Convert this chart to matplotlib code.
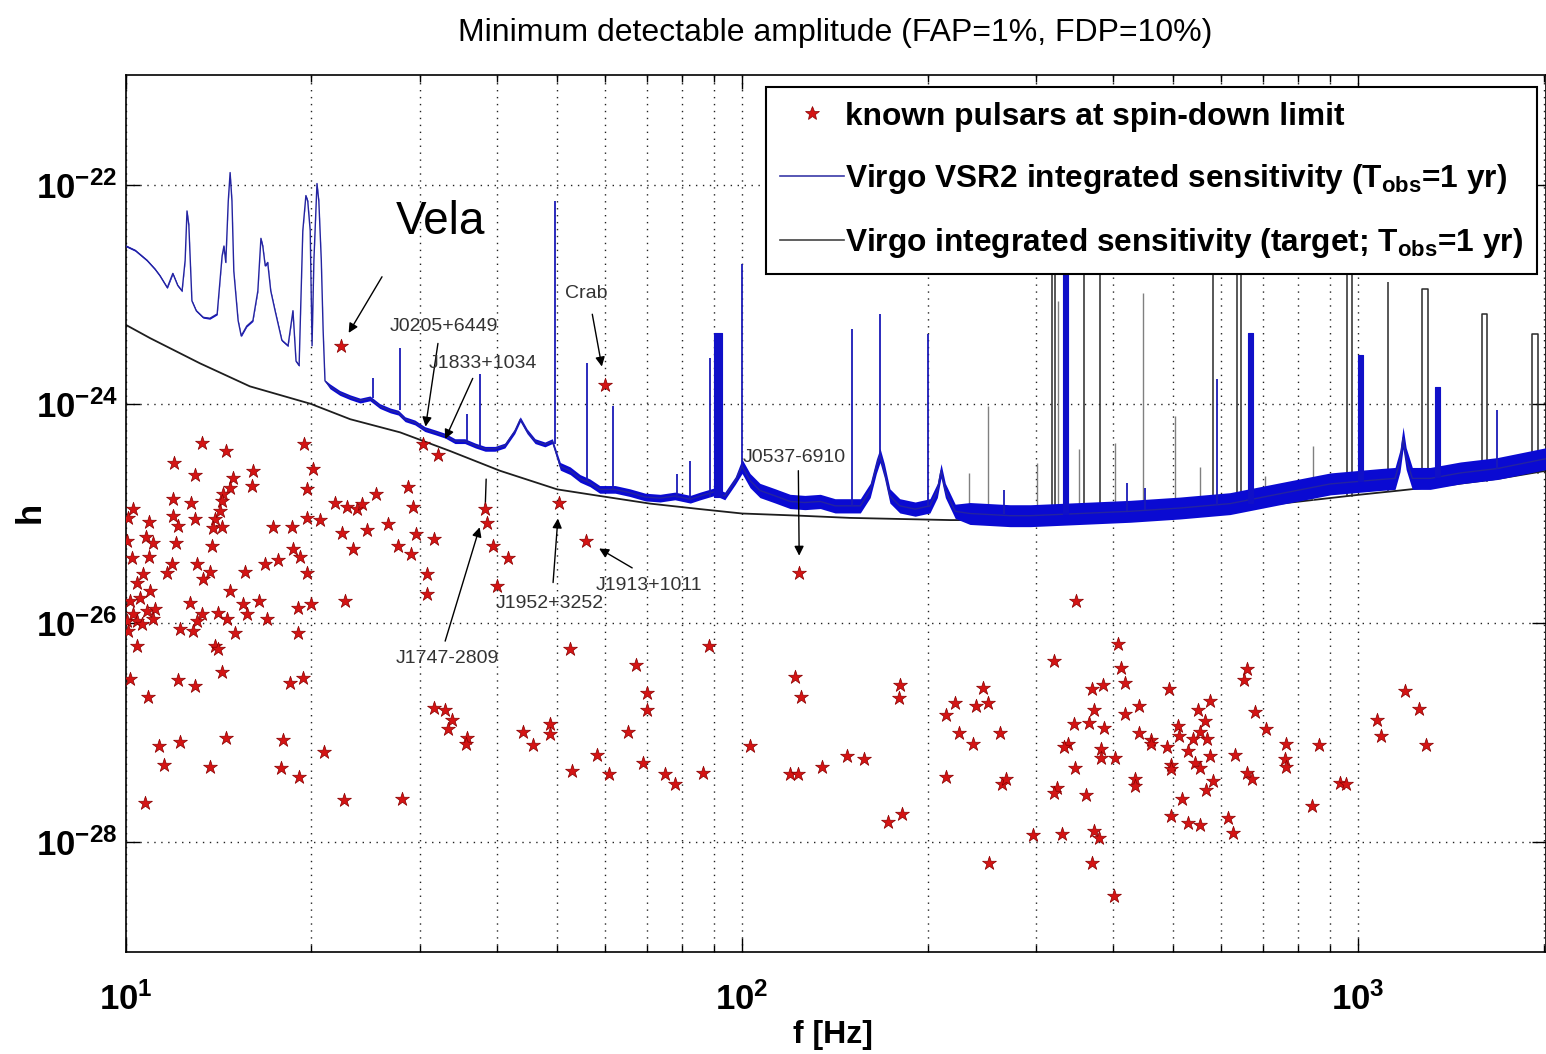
import matplotlib
matplotlib.use('Agg')
import matplotlib.pyplot as plt
import numpy as np
from matplotlib import font_manager
from matplotlib.lines import Line2D
from matplotlib.ticker import LogLocator, NullLocator, NullFormatter

names = {f.name for f in font_manager.fontManager.ttflist}
NARROW = 'Liberation Sans Narrow' if 'Liberation Sans Narrow' in names else 'Liberation Sans'

plt.rcParams['font.family'] = [NARROW, 'DejaVu Sans']
plt.rcParams['mathtext.fontset'] = 'custom'
plt.rcParams['mathtext.rm'] = NARROW
plt.rcParams['mathtext.bf'] = NARROW + ':bold'
plt.rcParams['mathtext.it'] = NARROW + ':italic'

# ---- data (log10 f [Hz], log10 h) ----
# Virgo VSR2 integrated sensitivity, smooth part
vsr2_logf = [1.000, 1.015, 1.034, 1.047, 1.055, 1.067, 1.076, 1.084, 1.091, 1.096,
             1.099, 1.102, 1.107, 1.114, 1.125, 1.136, 1.148, 1.156, 1.159, 1.162,
             1.166, 1.169, 1.172, 1.175, 1.182, 1.187, 1.196, 1.206, 1.214, 1.219,
             1.222, 1.226, 1.230, 1.235, 1.242, 1.253, 1.263, 1.271, 1.276, 1.281,
             1.287, 1.292, 1.295, 1.299, 1.302, 1.305, 1.310, 1.313, 1.317, 1.320,
             1.323, 1.331, 1.347, 1.364, 1.380, 1.396, 1.412, 1.429, 1.442, 1.453,
             1.469, 1.485, 1.502, 1.518, 1.534, 1.550, 1.567, 1.583, 1.599, 1.615,
             1.631, 1.640, 1.651, 1.664, 1.680, 1.692, 1.705, 1.721, 1.737, 1.753,
             1.769, 1.794, 1.818, 1.843, 1.867, 1.891, 1.916, 1.932, 1.956, 1.972,
             1.989, 2.000, 2.013, 2.029, 2.054, 2.078, 2.102, 2.127, 2.151, 2.175,
             2.192, 2.208, 2.218, 2.224, 2.231, 2.240, 2.256, 2.281, 2.305, 2.317,
             2.323, 2.330, 2.346, 2.370, 2.403, 2.435, 2.468, 2.549, 2.630, 2.711,
             2.792, 2.873, 2.955, 3.036, 3.060, 3.068, 3.073, 3.078, 3.088, 3.117,
             3.166, 3.226, 3.305]
vsr2_logh = [-22.56, -22.60, -22.69, -22.77, -22.83, -22.94, -22.81, -22.92, -22.97, -22.69,
             -22.24, -22.37, -23.06, -23.15, -23.21, -23.22, -23.18, -22.65, -22.56, -22.71,
             -22.15, -21.89, -22.15, -22.79, -23.24, -23.38, -23.29, -23.24, -22.97, -22.49,
             -22.56, -22.74, -22.71, -22.97, -23.15, -23.42, -23.47, -23.15, -23.61, -23.65,
             -22.42, -22.10, -22.15, -22.42, -23.47, -22.69, -21.99, -22.15, -22.69, -23.33,
             -23.79, -23.84, -23.90, -23.94, -23.97, -23.95, -24.02, -24.06, -24.08, -24.14,
             -24.17, -24.23, -24.26, -24.29, -24.34, -24.34, -24.38, -24.41, -24.41, -24.38,
             -24.25, -24.14, -24.25, -24.34, -24.37, -24.34, -24.57, -24.61, -24.68, -24.72,
             -24.78, -24.78, -24.81, -24.85, -24.86, -24.84, -24.87, -24.84, -24.80, -24.84,
             -24.70, -24.57, -24.70, -24.79, -24.84, -24.89, -24.90, -24.89, -24.93, -24.93,
             -24.93, -24.79, -24.57, -24.47, -24.61, -24.84, -24.93, -24.96, -24.93, -24.79,
             -24.61, -24.79, -24.98, -25.00, -25.01, -25.02, -25.02, -25.00, -24.98, -24.95,
             -24.91, -24.82, -24.73, -24.69, -24.68, -24.52, -24.31, -24.50, -24.68, -24.68,
             -24.63, -24.59, -24.50]
# half-width of the noise band (dex) per frequency range
noise_edges_logf = [1.0, 1.33, 1.70, 2.0, 2.35, 3.31]
noise_dex = [0.008, 0.022, 0.035, 0.065, 0.10]

# narrow VSR2 lines: log f, base, peak
line_logf = [1.401, 1.445, 1.554, 1.575, 1.696, 1.748, 1.791, 1.894, 1.916, 1.948,
             2.000, 2.179, 2.224, 2.302, 2.425, 2.625, 2.654, 2.771, 3.226]
line_base = [-23.95, -24.06, -24.34, -24.38, -24.37, -24.70, -24.78, -24.86, -24.87, -24.85,
             -24.57, -24.93, -24.47, -24.93, -25.00, -24.98, -24.97, -24.92, -24.59]
line_peak = [-23.76, -23.49, -24.09, -23.73, -22.15, -23.63, -24.02, -24.64, -24.52, -23.58,
             -22.72, -23.32, -23.18, -23.36, -24.79, -24.72, -24.77, -23.77, -24.06]
# wide VSR2 line clusters: log f from, log f to, base, peak
cluster_lo = [1.955, 2.521, 2.821, 3.000, 3.125]
cluster_hi = [1.968, 2.529, 2.829, 3.008, 3.133]
cluster_base = [-24.85, -25.00, -24.90, -24.70, -24.67]
cluster_peak = [-23.35, -22.60, -23.35, -23.55, -23.85]

# Virgo target sensitivity
target_logf = [1.000, 1.039, 1.120, 1.201, 1.300, 1.364, 1.445, 1.526, 1.607, 1.700,
               1.769, 1.851, 1.932, 2.000, 2.094, 2.175, 2.256, 2.338, 2.419, 2.500,
               2.581, 2.662, 2.744, 2.825, 2.906, 3.000, 3.068, 3.149, 3.231, 3.305]
target_logh = [-23.28, -23.40, -23.63, -23.84, -24.00, -24.14, -24.26, -24.43, -24.61, -24.78,
               -24.84, -24.91, -24.96, -25.00, -25.02, -25.04, -25.05, -25.06, -25.06, -25.05,
               -25.05, -25.02, -24.99, -24.94, -24.89, -24.83, -24.79, -24.74, -24.68, -24.61]
# target violin-mode pulses: log f from, log f to, base, top
pulse_lo = [2.503, 2.804, 2.982, 3.104, 3.201, 3.282]
pulse_hi = [2.508, 2.810, 2.990, 3.114, 3.209, 3.292]
pulse_base = [-25.05, -24.94, -24.84, -24.76, -24.70, -24.63]
pulse_top = [-22.60, -22.60, -22.60, -22.95, -23.18, -23.36]
# thin target lines: log f, top
tline_logf = [2.555, 2.581, 2.765, 3.049]
tline_top = [-22.60, -22.60, -22.60, -22.89]
tline_base = [-25.03, -25.03, -24.97, -24.80]
gline_logf = [2.368, 2.399, 2.479, 2.513, 2.547, 2.606, 2.651, 2.703, 2.744, 2.849, 2.927]
gline_top = [-24.63, -24.02, -24.54, -23.06, -24.41, -24.36, -22.99, -24.11, -24.58, -24.66, -24.38]
gline_base = [-25.06, -25.06, -25.05, -25.05, -25.04, -25.03, -25.02, -25.00, -24.99, -24.93, -24.88]

# known pulsars at spin-down limit
star_logf = [1.123, 1.162, 1.078, 1.112, 1.174, 1.206, 1.205, 1.169, 1.157, 1.289,
             1.304, 1.294, 1.076, 1.106, 1.156, 1.011, 1.003, 1.037, 1.076, 1.112,
             1.144, 1.153, 1.084, 1.141, 1.156, 1.239, 1.269, 1.294, 1.315, 1.339,
             1.359, 1.375, 1.383, 1.406, 1.458, 1.466, 1.351, 1.391, 1.425, 1.471,
             1.500, 1.442, 1.463, 1.369, 1.002, 1.032, 1.044, 1.081, 1.140, 1.010,
             1.037, 1.271, 1.282, 1.247, 1.226, 1.115, 1.075, 1.067, 1.136, 1.125,
             1.193, 1.294, 1.028, 1.018, 1.169, 1.104, 1.216, 1.190, 1.279, 1.300,
             1.356, 1.006, 1.023, 1.039, 1.011, 1.034, 1.047, 1.002, 1.018, 1.044,
             1.003, 1.026, 1.149, 1.164, 1.196, 1.229, 1.123, 1.115, 1.088, 1.109,
             1.177, 1.279, 1.018, 1.144, 1.149, 1.156, 1.006, 1.084, 1.112, 1.266,
             1.287, 1.036, 1.500, 1.518, 1.529, 1.523, 1.554, 1.552, 1.644, 1.661,
             1.688, 1.688, 1.721, 1.724, 1.765, 1.054, 1.088, 1.162, 1.255, 1.062,
             1.136, 1.252, 1.281, 1.321, 1.031, 1.354, 1.448, 1.482, 1.506, 1.583,
             1.586, 1.596, 1.620, 1.602, 1.703, 1.747, 1.489, 1.489, 1.349, 1.778,
             2.093,
             1.946, 1.828, 1.846, 1.846, 1.815, 1.784, 1.839, 1.875, 1.891,
             1.937, 2.013, 2.086, 2.096, 2.078, 2.091, 2.130, 2.170, 2.198, 2.256,
             2.255, 2.237, 2.260, 2.331, 2.346, 2.352, 2.375, 2.380, 2.391, 2.399,
             2.419, 2.331, 2.422, 2.429, 2.472, 2.401,
             2.542, 2.610, 2.506, 2.615, 2.622, 2.568, 2.586, 2.693, 2.571, 2.622,
             2.644, 2.539, 2.563, 2.588, 2.529, 2.523, 2.583, 2.583, 2.606, 2.644,
             2.664, 2.664, 2.638, 2.638, 2.541, 2.511, 2.506, 2.558, 2.519, 2.571,
             2.580, 2.568, 2.604, 2.690, 2.696, 2.696, 2.708, 2.709, 2.740, 2.760,
             2.752, 2.744, 2.732, 2.724, 2.755, 2.760, 2.735, 2.744, 2.765, 2.753,
             2.714, 2.696, 2.724, 2.744, 2.789, 2.797, 2.800, 2.820, 2.815, 2.833,
             2.851, 2.820, 2.828, 2.883, 2.881, 2.883, 2.937, 2.925, 2.971, 2.981,
             3.031, 3.037, 3.076, 3.099, 3.110]
star_logh = [-24.36, -24.43, -24.54, -24.65, -24.68, -24.61, -24.75, -24.77, -24.82, -24.37,
             -24.59, -24.78, -24.87, -24.90, -24.89, -24.96, -25.04, -25.08, -25.02, -25.05,
             -25.05, -24.98, -25.11, -25.13, -25.12, -25.12, -25.12, -25.04, -25.06, -24.90,
             -24.94, -24.96, -24.91, -24.82, -24.76, -24.94, -25.18, -25.15, -25.10, -25.19,
             -25.23, -25.30, -25.37, -25.32, -25.25, -25.21, -25.27, -25.27, -25.30, -25.41,
             -25.40, -25.32, -25.40, -25.42, -25.46, -25.46, -25.46, -25.54, -25.53, -25.60,
             -25.53, -25.54, -25.55, -25.63, -25.71, -25.82, -25.80, -25.83, -25.86, -25.83,
             -25.80, -25.80, -25.77, -25.71, -25.92, -25.89, -25.87, -25.98, -25.98, -25.96,
             -26.07, -26.01, -25.91, -25.96, -25.92, -25.96, -25.92, -25.98, -26.05, -26.07,
             -26.09, -26.09, -26.21, -26.21, -26.24, -26.45, -26.51, -26.52, -26.57, -26.55,
             -26.50, -26.67, -26.77, -26.79, -26.88, -26.97, -27.05, -27.10, -26.99, -27.11,
             -26.92, -27.01, -26.24, -27.35, -27.20, -27.12, -27.08, -27.05, -27.07, -27.29,
             -27.31, -27.32, -27.40, -27.18, -27.64, -27.61, -27.60, -24.37, -24.47, -24.96,
             -25.09, -25.30, -25.41, -25.66, -24.90, -25.25, -25.55, -25.73, -23.47, -23.83,
             -25.54,
             -26.21, -26.38, -26.64, -26.79, -26.99, -27.38, -27.28, -27.38, -27.47,
             -27.37, -27.12, -26.49, -26.67, -27.38, -27.38, -27.31, -27.21, -27.24, -26.56,
             -26.68, -27.81, -27.74, -26.84, -26.73, -27.00, -27.10, -26.76, -26.59, -26.73,
             -27.00, -27.40, -27.47, -27.42, -27.93, -28.19,
             -25.80, -26.19, -26.35, -26.41, -26.55, -26.60, -26.56, -26.60, -26.79, -26.83,
             -26.76, -26.92, -26.91, -26.96, -27.10, -27.13, -27.15, -27.23, -27.23, -27.00,
             -27.07, -27.10, -27.42, -27.49, -27.32, -27.50, -27.55, -27.57, -27.92, -27.90,
             -27.96, -28.19, -28.49, -27.13, -27.29, -27.33, -26.94, -27.03, -26.79, -26.71,
             -26.89, -26.99, -27.06, -27.17, -27.06, -27.21, -27.28, -27.32, -27.44, -27.52,
             -27.60, -27.76, -27.82, -27.84, -27.78, -27.91, -27.20, -26.42, -26.52, -26.81,
             -26.97, -27.37, -27.42, -27.10, -27.24, -27.31, -27.11, -27.67, -27.46, -27.47,
             -26.88, -27.03, -26.62, -26.78, -27.11]

named = ['Vela', 'J0205+6449', 'J1833+1034', 'Crab', 'J0537-6910',
         'J1747-2809', 'J1952+3252', 'J1913+1011']
named_logf = [1.349, 1.482, 1.506, 1.778, 2.093, 1.583, 1.703, 1.747]
named_logh = [-23.47, -24.37, -24.47, -23.83, -25.54, -24.96, -24.90, -25.25]

ytick_exp = [-22, -24, -26, -28]
xtick_exp = [1, 2, 3]

labels = ['known pulsars at spin-down limit',
          r'Virgo VSR2 integrated sensitivity (T$_{\mathbf{obs}}$=1 yr)',
          r'Virgo integrated sensitivity (target; T$_{\mathbf{obs}}$=1 yr)']

# ---- layout (pixels, relative to the star) ----
label_text_off = [(100, 124), (21, 118), (45, 92), (-19, 92), (-5, 115),
                  (-38, -149), (-9, -101), (63, -45)]
label_arrow_off = [(41, 69), (15, 101), (35, 77), (-13, 71), (-1, 102),
                   (-40, -132), (-6, -80), (46, -27)]
label_shrink = [15, 18, 18, 19, 17, 19, 16, 15]

W, H = 1546, 1054
fig = plt.figure(figsize=(W / 100, H / 100), dpi=100)
ax = fig.add_axes([126 / W, 102 / H, 1420 / W, 877 / H])
ax.set_xscale('log')
ax.set_yscale('log')

f = 10 ** np.array(vsr2_logf)
h = 10 ** np.array(vsr2_logh)
idx = np.clip(np.digitize(vsr2_logf, noise_edges_logf) - 1, 0, len(noise_dex) - 1)
spread = 10 ** np.array(noise_dex)[idx]

# target curve (below the VSR2 curve)
ax.plot(10 ** np.array(target_logf), 10 ** np.array(target_logh), color='#1e1e1e', lw=1.3, zorder=2)
for lo, hi, b, t in zip(pulse_lo, pulse_hi, pulse_base, pulse_top):
    ax.plot([10 ** lo, 10 ** lo, 10 ** hi, 10 ** hi], [10 ** b, 10 ** t, 10 ** t, 10 ** b],
            color='#2a2a2a', lw=1.1, zorder=2)
ax.vlines(10 ** np.array(tline_logf), 10 ** np.array(tline_base), 10 ** np.array(tline_top),
          color='#2a2a2a', lw=1.1, zorder=2)
ax.vlines(10 ** np.array(gline_logf), 10 ** np.array(gline_base), 10 ** np.array(gline_top),
          color='#808080', lw=1.0, zorder=2)

# VSR2 curve
ax.fill_between(f, h / spread, h * spread, color='#0a0ad2', lw=0, zorder=3)
ax.plot(f, h, color='#2424a0', lw=1.0, zorder=3)
ax.vlines(10 ** np.array(line_logf), 10 ** np.array(line_base), 10 ** np.array(line_peak),
          color='#1a1ab8', lw=1.3, zorder=3)
for lo, hi, b, t in zip(cluster_lo, cluster_hi, cluster_base, cluster_peak):
    ax.fill_between([10 ** lo, 10 ** hi], 10 ** b, 10 ** t, color='#1010c8', lw=0.8,
                    edgecolor='#1010c8', zorder=3)

# pulsars
ax.scatter(10 ** np.array(star_logf), 10 ** np.array(star_logh), marker='*', s=110,
           facecolor='#d41414', edgecolor='#8a0000', linewidths=0.5, zorder=5)

# annotations
for i, name in enumerate(named):
    xy = (10 ** named_logf[i], 10 ** named_logh[i])
    ax.annotate('', xy=xy, xytext=label_arrow_off[i], textcoords='offset pixels',
                arrowprops=dict(arrowstyle='-|>', color='black', lw=1.0, shrinkA=0,
                                shrinkB=label_shrink[i] * 0.72, mutation_scale=14), zorder=6)
    if name == 'Vela':
        ax.annotate(name, xy=xy, xytext=label_text_off[i], textcoords='offset pixels',
                    ha='center', va='center', fontsize=33, color='black',
                    family='Liberation Sans', zorder=6)
    else:
        ax.annotate(name, xy=xy, xytext=label_text_off[i], textcoords='offset pixels',
                    ha='center', va='center', fontsize=14, color='#333333', zorder=6)
# plain marker line above J1747-2809
ax.annotate('', xy=(10 ** named_logf[5], 10 ** named_logh[5]), xytext=(1, 30),
            textcoords='offset pixels',
            arrowprops=dict(arrowstyle='-', color='black', lw=1.0, shrinkA=0, shrinkB=3))

# axes, ticks, grid
ax.set_xlim(10, 10 ** 3.305)
ax.set_ylim(1e-29, 1e-21)
ax.set_yticks([10.0 ** e for e in ytick_exp],
              labels=[r'$\mathbf{10^{%d}}$' % e for e in ytick_exp])
ax.set_xticks([10.0 ** e for e in xtick_exp],
              labels=[r'$\mathbf{10^{%d}}$' % e for e in xtick_exp])
ax.xaxis.set_minor_locator(LogLocator(base=10, subs=np.arange(2, 10)))
ax.xaxis.set_minor_formatter(NullFormatter())
ax.yaxis.set_minor_locator(NullLocator())
ax.tick_params(which='both', direction='in', top=True, right=True, width=1.0)
ax.tick_params(which='major', length=10, labelsize=25)
ax.tick_params(which='minor', length=5)
ax.tick_params(axis='x', pad=22)
ax.tick_params(axis='y', pad=6)
ax.grid(True, which='major', axis='both', ls=(0, (1, 4)), color='#222222', lw=1.0)
ax.grid(True, which='minor', axis='x', ls=(0, (1, 4)), color='#222222', lw=1.0)
ax.set_axisbelow(True)
for s in ax.spines.values():
    s.set_linewidth(1.2)

handles = [Line2D([], [], ls='none', marker='*', ms=10, mfc='#d41414', mec='#8a0000', mew=0.5),
           Line2D([], [], color='#3a3aa8', lw=1.2),
           Line2D([], [], color='#444444', lw=1.2)]
leg = ax.legend(handles, labels, loc='upper right', bbox_to_anchor=(0.994, 0.986),
                prop=dict(family=NARROW, weight='bold', size=22.8), frameon=True, fancybox=False,
                edgecolor='black', framealpha=1, borderaxespad=0, handlelength=2.0,
                handletextpad=0.05, labelspacing=0.95, borderpad=0.45)
leg.get_frame().set_linewidth(1.5)
leg.set_zorder(10)

fig.text(835 / W, 1 - 33 / H, 'Minimum detectable amplitude (FAP=1%, FDP=10%)',
         ha='center', va='center', fontsize=23, family='Liberation Sans')
fig.text(833 / W, 1 - 1035 / H, 'f [Hz]', ha='center', va='center', fontsize=23, fontweight='bold')
fig.text(30 / W, 1 - 512 / H, 'h', ha='center', va='center', fontsize=25, fontweight='bold',
         rotation=90)

fig.savefig('out.png', dpi=100)
